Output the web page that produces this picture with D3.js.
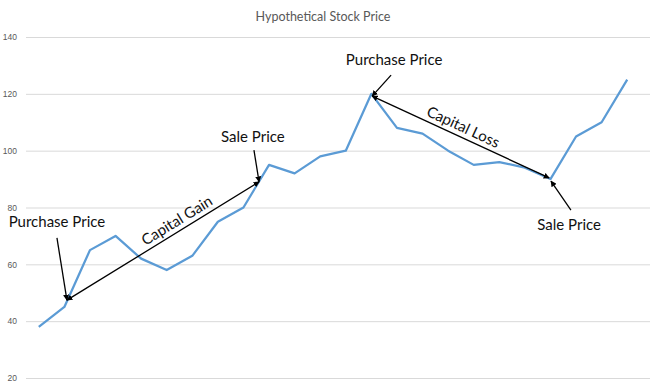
<!DOCTYPE html>
<html>
<head>
<meta charset="utf-8">
<script src="https://cdn.jsdelivr.net/npm/d3@7"></script>
<style>
  body { margin: 0; background: #fff; }
  svg { display: block; font-family: Lato, "Open Sans", sans-serif; }
</style>
</head>
<body>
<div id="chart"></div>
<script>
const prices = [38, 45, 65, 70, 62, 58, 63, 75, 80, 95, 92, 98, 100, 120, 108, 106, 100, 95, 96, 94, 90, 105, 110, 125];
const yTicks = [20, 40, 60, 80, 100, 120, 140];

// annotation arrows in (index, price) units
const pointerArrows = [
    { from: [0.71, 69.3], to: [1.10, 47.4] },
    { from: [8.41, 100.2], to: [8.61, 89.0] },
    { from: [13.77, 126.6], to: [13.03, 119.2] },
    { from: [20.80, 79.1], to: [20.02, 89.3] }
];
const spanArrows = [
    { from: [1.10, 47.4], to: [8.61, 89.0], label: "Capital Gain", at: 0.6 },
    { from: [13.03, 119.2], to: [19.95, 90.4], label: "Capital Loss", at: 0.49 }
];
const labels = [
    { text: "Purchase Price", pos: [0.71, 73.1] },
    { text: "Sale Price", pos: [8.37, 103.0] },
    { text: "Purchase Price", pos: [13.89, 130.1] },
    { text: "Sale Price", pos: [20.73, 72.1] }
];

const width = 650, height = 386;
const margin = { top: 37, right: 0, bottom: 8, left: 26 };

const svg = d3.select("#chart").append("svg")
    .attr("width", width)
    .attr("height", height);

const defs = svg.append("defs");
defs.append("marker")
    .attr("id", "head")
    .attr("viewBox", "0 0 10 10")
    .attr("refX", 9).attr("refY", 5)
    .attr("markerWidth", 6).attr("markerHeight", 6)
    .attr("markerUnits", "userSpaceOnUse")
    .attr("orient", "auto-start-reverse")
    .append("path")
    .attr("d", "M0,0L10,5L0,10Z")
    .attr("fill", "#000");

const x = d3.scalePoint()
    .domain(d3.range(prices.length))
    .range([margin.left, 640])
    .padding(0.5);

const xi = d3.scaleLinear()
    .domain([0, prices.length - 1])
    .range([x(0), x(prices.length - 1)]);

const y = d3.scaleLinear()
    .domain([20, 140])
    .range([height - margin.bottom, margin.top]);

svg.append("text")
    .attr("x", 323)
    .attr("y", 21)
    .attr("text-anchor", "middle")
    .attr("fill", "#595959")
    .style("font-size", "12.5px")
    .text("Hypothetical Stock Price");

const yAxis = svg.append("g")
    .attr("transform", `translate(${margin.left},0)`)
    .call(d3.axisLeft(y).tickValues(yTicks).tickSize(-(width - margin.left)).tickPadding(9));
yAxis.select(".domain").remove();
yAxis.selectAll(".tick line").attr("stroke", "#d9d9d9");
yAxis.selectAll(".tick text")
    .attr("fill", "#595959")
    .style("font-size", "8.5px");

const line = d3.line()
    .x((d, i) => x(i))
    .y(d => y(d));

svg.append("path")
    .datum(prices)
    .attr("fill", "none")
    .attr("stroke", "#5b9bd5")
    .attr("stroke-width", 2.25)
    .attr("stroke-linejoin", "round")
    .attr("d", line);

svg.selectAll(".pointer")
    .data(pointerArrows)
    .enter().append("line")
    .attr("class", "pointer")
    .attr("x1", d => xi(d.from[0])).attr("y1", d => y(d.from[1]))
    .attr("x2", d => xi(d.to[0])).attr("y2", d => y(d.to[1]))
    .attr("stroke", "#000")
    .attr("stroke-width", 1.3)
    .attr("marker-end", "url(#head)");

svg.selectAll(".span")
    .data(spanArrows)
    .enter().append("line")
    .attr("class", "span")
    .attr("x1", d => xi(d.from[0])).attr("y1", d => y(d.from[1]))
    .attr("x2", d => xi(d.to[0])).attr("y2", d => y(d.to[1]))
    .attr("stroke", "#000")
    .attr("stroke-width", 1.3)
    .attr("marker-start", "url(#head)")
    .attr("marker-end", "url(#head)");

svg.selectAll(".span-label")
    .data(spanArrows)
    .enter().append("text")
    .attr("class", "span-label")
    .attr("transform", d => {
        const x1 = xi(d.from[0]), y1 = y(d.from[1]);
        const x2 = xi(d.to[0]), y2 = y(d.to[1]);
        const px = x1 + (x2 - x1) * d.at, py = y1 + (y2 - y1) * d.at;
        const angle = Math.atan2(y2 - y1, x2 - x1) * 180 / Math.PI;
        return `translate(${px},${py}) rotate(${angle})`;
    })
    .attr("dy", -5)
    .attr("text-anchor", "middle")
    .attr("fill", "#111")
    .style("font-size", "15px")
    .text(d => d.label);

svg.selectAll(".note")
    .data(labels)
    .enter().append("text")
    .attr("class", "note")
    .attr("x", d => xi(d.pos[0]))
    .attr("y", d => y(d.pos[1]))
    .attr("text-anchor", "middle")
    .attr("fill", "#111")
    .style("font-size", "15px")
    .text(d => d.text);
</script>
</body>
</html>
